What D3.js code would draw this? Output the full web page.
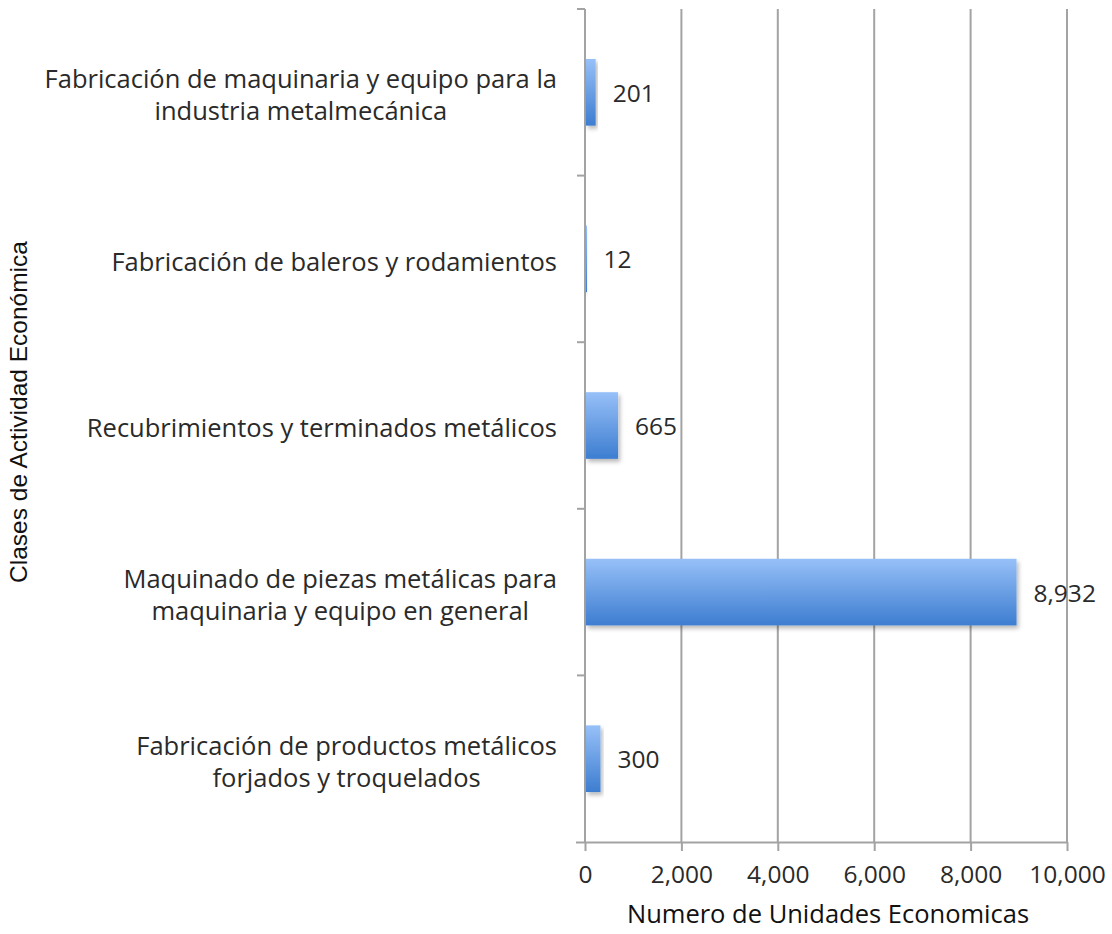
<!DOCTYPE html>
<html>
<head>
<meta charset="utf-8">
<script src="https://cdn.jsdelivr.net/npm/d3@7/dist/d3.min.js"></script>
<style>
  html, body { margin: 0; padding: 0; background: #fff; }
  svg { display: block; }
</style>
</head>
<body>
<svg id="chart" width="1112" height="934"></svg>
<script>
// Activity classes, top to bottom, with their line breaks
const categories = [
  ["Fabricación de maquinaria y equipo para la", "industria metalmecánica"],
  ["Fabricación de baleros y rodamientos"],
  ["Recubrimientos y terminados metálicos"],
  ["Maquinado de piezas metálicas para", "maquinaria y equipo en general"],
  ["Fabricación de productos metálicos", "forjados y troquelados"]
];
const values = [201, 12, 665, 8932, 300];
const xTicks = [0, 2000, 4000, 6000, 8000, 10000];
const xTitle = "Numero de Unidades Economicas";
const yTitle = "Clases de Actividad Económica";

const svg = d3.select("#chart");
const margin = { left: 585, right: 45, top: 9, bottom: 842 };
const fmt = d3.format(",");
const labelFont = "'Open Sans', Lato, sans-serif";
const gridColor = "#a3a3a3";
const textColor = "#2a2a2a";

const x = d3.scaleLinear().domain([0, 10000]).range([margin.left, 1067]);
const y = d3.scaleBand()
  .domain(d3.range(categories.length))
  .range([margin.top, margin.bottom])
  .paddingInner(0.6).paddingOuter(0.3);
const yTickScale = d3.scaleLinear().domain([0, categories.length]).range([margin.top, margin.bottom]);

const defs = svg.append("defs");
const grad = defs.append("linearGradient").attr("id", "barFill")
  .attr("x1", 0).attr("y1", 0).attr("x2", 0).attr("y2", 1);
grad.append("stop").attr("offset", "0%").attr("stop-color", "#97c0f8");
grad.append("stop").attr("offset", "100%").attr("stop-color", "#3d7dd0");
const shadow = defs.append("filter").attr("id", "barShadow")
  .attr("x", "-10%").attr("y", "-10%").attr("width", "130%").attr("height", "130%");
shadow.append("feDropShadow").attr("dx", 2).attr("dy", 3).attr("stdDeviation", 2)
  .attr("flood-color", "#000").attr("flood-opacity", 0.28);

// Vertical gridlines
svg.append("g").selectAll("line").data(xTicks.slice(1)).join("line")
  .attr("x1", d => x(d)).attr("x2", d => x(d))
  .attr("y1", margin.top).attr("y2", margin.bottom)
  .attr("stroke", gridColor).attr("stroke-width", 2);

// Bottom axis
const xAxis = svg.append("g").attr("transform", `translate(0,${margin.bottom})`)
  .call(d3.axisBottom(x).tickValues(xTicks).tickFormat(fmt).tickSizeInner(9).tickSizeOuter(0).tickPadding(15));
xAxis.select(".domain").attr("d", `M${margin.left - 9},0.5H${x(10000)}`)
  .attr("stroke", gridColor).attr("stroke-width", 2);
xAxis.selectAll(".tick line").attr("stroke", gridColor).attr("stroke-width", 2);
xAxis.selectAll(".tick text").attr("fill", textColor).attr("font-family", labelFont).attr("font-size", 24.5);

// Left axis line with band separators
const yAxisG = svg.append("g");
yAxisG.append("line").attr("x1", margin.left).attr("x2", margin.left)
  .attr("y1", margin.top).attr("y2", margin.bottom)
  .attr("stroke", gridColor).attr("stroke-width", 2);
yAxisG.selectAll("line.sep").data(d3.range(categories.length)).join("line")
  .attr("class", "sep")
  .attr("x1", margin.left - 8).attr("x2", margin.left)
  .attr("y1", d => yTickScale(d)).attr("y2", d => yTickScale(d))
  .attr("stroke", gridColor).attr("stroke-width", 2);

// Bars
svg.append("g").selectAll("rect").data(values).join("rect")
  .attr("x", x(0) + 1)
  .attr("y", (d, i) => y(i))
  .attr("width", d => Math.max(1, x(d) - x(0)))
  .attr("height", y.bandwidth())
  .attr("fill", "url(#barFill)")
  .attr("filter", "url(#barShadow)");

// Value labels
svg.append("g").selectAll("text").data(values).join("text")
  .attr("x", d => x(d) + 18)
  .attr("y", (d, i) => y(i) + y.bandwidth() / 2 + 3)
  .attr("dominant-baseline", "middle")
  .attr("font-family", labelFont).attr("font-size", 24.5).attr("fill", textColor)
  .text(d => fmt(d));

// Category labels: block right-aligned to the axis, lines centred within the block
const lineGap = 32;
const labelRight = 557;
svg.append("g").selectAll("text").data(categories).join("text")
  .attr("text-anchor", "middle")
  .attr("font-family", labelFont).attr("font-size", 25.5).attr("fill", textColor)
  .each(function(lines, i) {
    const cy = y(i) + y.bandwidth() / 2 + 5;
    const t = d3.select(this);
    const spans = lines.map((ln, k) => t.append("tspan")
      .attr("y", cy + (k - (lines.length - 1) / 2) * lineGap)
      .attr("dominant-baseline", "middle").text(ln));
    const widest = d3.max(spans, s => s.node().getComputedTextLength());
    spans.forEach(s => s.attr("x", labelRight - widest / 2));
  });

// Axis titles
svg.append("text").attr("x", (x(0) + x(10000)) / 2 + 2).attr("y", 916)
  .attr("text-anchor", "middle").attr("dominant-baseline", "middle")
  .attr("font-family", labelFont).attr("font-size", 25.5).attr("fill", "#111")
  .text(xTitle);
svg.append("text")
  .attr("transform", "translate(21,412) rotate(-90)")
  .attr("text-anchor", "middle").attr("dominant-baseline", "middle")
  .attr("font-family", "'Liberation Sans', Arial, sans-serif").attr("font-size", 24.5).attr("fill", "#111")
  .text(yTitle);
</script>
</body>
</html>
